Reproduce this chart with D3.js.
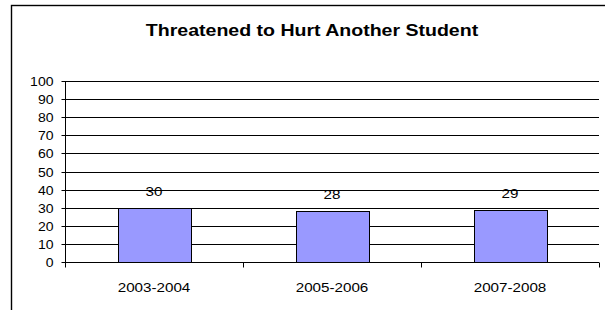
<!DOCTYPE html>
<html><head><meta charset="utf-8">
<script src="https://cdn.jsdelivr.net/npm/d3@7"></script>
<style>html,body{margin:0;padding:0;background:#fff;overflow:hidden}</style>
</head><body>
<script>
const title = "Threatened to Hurt Another Student";
const categories = ["2003-2004", "2005-2006", "2007-2008"];
const values = [30, 28, 29];
const yTicks = [0, 10, 20, 30, 40, 50, 60, 70, 80, 90, 100];

const W = 605, H = 310;
const svg = d3.select("body").append("svg").attr("width", W).attr("height", H)
  .style("font-family", "Arial, 'Liberation Sans', sans-serif");

const SX = 1.17; // horizontal stretch seen in reference text

// outer frame
svg.append("rect").attr("x", 11.5).attr("y", 5.5).attr("width", 640).attr("height", 400)
  .attr("fill", "none").attr("stroke", "#000").attr("stroke-width", 1.4);

const x = d3.scaleBand().domain(categories).range([65, 599]).paddingInner(0).paddingOuter(0);
const y = d3.scaleLinear().domain([0, 100]).range([262, 81]);
const cr = v => Math.round(v) + 0.5;

// gridlines
svg.append("g").selectAll("line").data(yTicks.filter(d => d > 0)).join("line")
  .attr("x1", 65).attr("x2", 599)
  .attr("y1", d => cr(y(d))).attr("y2", d => cr(y(d)))
  .attr("stroke", "#000").attr("stroke-width", 1);

// bars
const bw = x.bandwidth() * 0.41;
svg.append("g").selectAll("rect").data(values).join("rect")
  .attr("x", (d, i) => cr(x(categories[i]) + x.bandwidth() / 2 - bw / 2))
  .attr("width", Math.round(bw))
  .attr("y", d => cr(y(d)))
  .attr("height", d => cr(y(0)) - cr(y(d)))
  .attr("fill", "#9999FF").attr("stroke", "#000").attr("stroke-width", 1);

// y axis
const yAxis = d3.axisLeft(y).tickValues(yTicks).tickSize(4).tickPadding(8).tickFormat(d3.format("d"));
const gy = svg.append("g").attr("transform", "translate(65.5,0.5)").call(yAxis);
gy.select(".domain").attr("d", `M0,${Math.round(y(100))}V${Math.round(y(0))}`).attr("stroke", "#000");
gy.selectAll(".tick").attr("transform", d => `translate(0,${Math.round(y(d))})`);
gy.selectAll(".tick line").attr("stroke", "#000");
gy.selectAll(".tick text").attr("fill", "#000").style("font-size", "12px")
  .attr("dy", "0.36em")
  .attr("transform", `scale(${SX},1)`).attr("x", -12 / SX);

// x axis
const xAxis = d3.axisBottom(x).tickSize(0).tickPadding(0);
const gx = svg.append("g").attr("transform", `translate(0,${cr(y(0))})`).call(xAxis);
gx.select(".domain").attr("d", "M65,0H599").attr("stroke", "#000");
const bounds = [x(categories[0]), ...categories.map(c => x(c) + x.bandwidth())];
gx.selectAll(".bt").data(bounds).join("line").attr("class", "bt")
  .attr("x1", d => cr(d)).attr("x2", d => cr(d)).attr("y1", 0).attr("y2", 5)
  .attr("stroke", "#000");
gx.selectAll(".tick text").attr("fill", "#000").style("font-size", "13px")
  .attr("y", 29.5).attr("dy", 0)
  .attr("transform", `scale(${SX},1)`);
gx.selectAll(".tick").attr("transform", d => `translate(${(x(d) + x.bandwidth() / 2)},0)`);
gx.selectAll(".tick text").attr("x", 0);

// value labels
svg.append("g").selectAll("text").data(values).join("text")
  .attr("transform", (d, i) => `translate(${x(categories[i]) + x.bandwidth() / 2},${y(d) - 12}) scale(${SX},1)`)
  .attr("text-anchor", "middle").style("font-size", "13px").attr("fill", "#000")
  .text(d => d);

// title
svg.append("text")
  .attr("transform", `translate(312,36) scale(1.15,1)`)
  .attr("text-anchor", "middle").style("font-size", "17px").style("font-weight", "bold")
  .attr("fill", "#000").text(title);
</script>
</body></html>
